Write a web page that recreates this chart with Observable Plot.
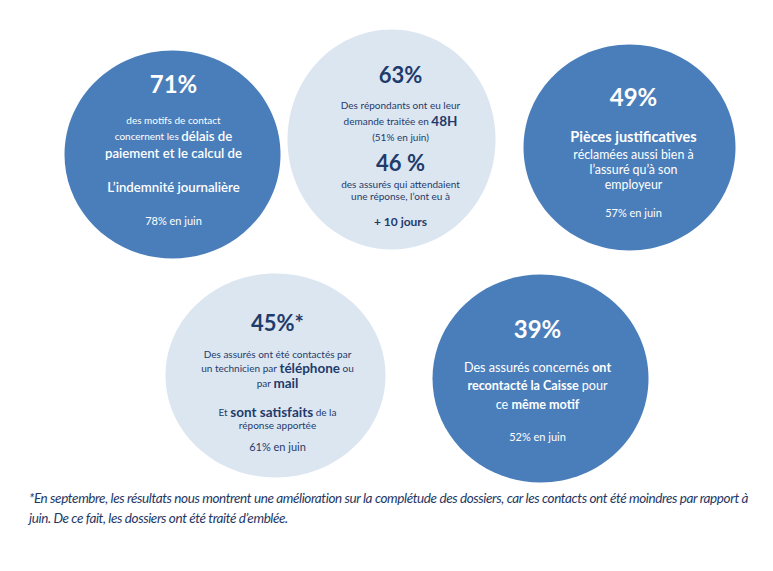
<!DOCTYPE html>
<html><head><meta charset="utf-8">
<script src="https://cdn.jsdelivr.net/npm/d3@7"></script>
<script src="https://cdn.jsdelivr.net/npm/@observablehq/plot@0.6"></script>
<style>
html,body{margin:0;padding:0;background:#fff;}
#chart{width:773px;position:relative;}
#note{font-family:Lato,sans-serif;font-style:italic;font-size:13.5px;line-height:20px;color:#1f3864;letter-spacing:-0.4px;margin:0;padding:0 0 0 29px;width:744px;white-space:nowrap;}
</style></head><body><div id="chart"></div>
<p id="note"></p>
<script>
// ---- data ----
const headline = ["71%", "63%", "49%", "45%*", "39%"];
const secondStat = "46 %";
const june = ["78% en juin", "(51% en juin)", "57% en juin", "61% en juin", "52% en juin"];
const tone = ["dark", "light", "dark", "light", "dark"];
const footnote = [
  "*En septembre, les résultats nous montrent une amélioration sur la complétude des dossiers, car les contacts ont été moindres par rapport à",
  "juin. De ce fait, les dossiers ont été traité d’emblée."
];
// text lines of each bubble: segments [text, style]
const bubbleLines = [
  [[[headline[0], "H"]],
   [["des motifs de contact", "s"]],
   [["concernent les", "s"], ["délais de", "m"]],
   [["paiement et le calcul de", "m"]],
   [["L’indemnité journalière", "m"]],
   [[june[0], "j"]]],
  [[[headline[1], "Hl"]],
   [["Des répondants ont eu leur", "s"]],
   [["demande traitée en", "s"], ["48H", "b"]],
   [[june[1], "s"]],
   [[secondStat, "Hl"]],
   [["des assurés qui attendaient", "s"]],
   [["une réponse, l’ont eu à", "s"]],
   [["+ 10 jours", "d"]]],
  [[[headline[2], "H"]],
   [["Pièces justificatives", "pj"]],
   [["réclamées aussi bien à", "r"]],
   [["l’assuré qu’à son", "r"]],
   [["employeur", "r"]],
   [[june[2], "j"]]],
  [[[headline[3], "Hl"]],
   [["Des assurés ont été contactés par", "s"]],
   [["un technicien par", "s"], ["téléphone", "b"], ["ou", "s"]],
   [["par", "s"], ["mail", "b"]],
   [["Et", "s"], ["sont satisfaits", "b"], ["de la", "s"]],
   [["réponse apportée", "s"]],
   [[june[3], "j"]]],
  [[[headline[4], "H"]],
   [["Des assurés concernés", "r5"], ["ont", "rb"]],
   [["recontacté la Caisse", "rb"], ["pour", "r5"]],
   [["ce", "r5"], ["même motif", "rb"]],
   [[june[4], "j"]]]
];

// ---- layout ----
const layout = [
  {cx: 172, cy: 154, rx: 108, ry: 104, tx: 173, lineY: [85, 120, 136, 153, 187, 221]},
  {cx: 391, cy: 139, rx: 104, ry: 110, tx: 400, lineY: [75, 105, 121, 137, 163, 184, 196, 222]},
  {cx: 629, cy: 147, rx: 106, ry: 103, tx: 633, lineY: [98, 137, 155, 170, 185, 213]},
  {cx: 275, cy: 375, rx: 110, ry: 102, tx: 277, lineY: [323, 354, 368, 383, 412, 425, 447]},
  {cx: 540, cy: 378, rx: 108, ry: 104, tx: 537, lineY: [330, 367, 385, 404, 437]}
];
const palette = {dark: {bg: "#4a7ebb", fg: "#ffffff"}, light: {bg: "#dce6f1", fg: "#1f3b6b"}};
const styles = {
  H: {size: 24, weight: 700}, Hl: {size: 22, weight: 700},
  s: {size: 10, weight: 400}, m: {size: 13.2, weight: 600},
  b: {size: 13.5, weight: 700}, r: {size: 12.4, weight: 400},
  r5: {size: 12.6, weight: 400}, rb: {size: 12.6, weight: 700},
  j: {size: 11, weight: 400},
  d: {size: 12, weight: 700}, pj: {size: 14.5, weight: 700}
};

const ctx = document.createElement("canvas").getContext("2d");
function measure(t, st) { ctx.font = `${st.weight} ${st.size}px Lato`; return ctx.measureText(t).width; }

const rows = [];
bubbleLines.forEach((lines, i) => {
  const L = layout[i], fg = palette[tone[i]].fg;
  lines.forEach((segs, j) => {
    const parts = segs.map(([t, s]) => ({t, st: styles[s]}));
    let total = 0;
    parts.forEach((p, k) => { p.w = measure(p.t, p.st); p.gap = k ? measure(" ", styles.s.size < p.st.size ? parts[k-1].st : p.st) : 0; total += p.w + p.gap; });
    let x = L.tx - total / 2;
    parts.forEach(p => { x += p.gap; rows.push({x, y: L.lineY[j], text: p.t, size: p.st.size, weight: p.st.weight, fill: fg}); x += p.w; });
  });
});

function ellipse(aspect) {
  return {draw(c, size) {
    const ry = Math.sqrt(size / Math.PI), rx = ry * aspect, k = 0.5523;
    c.moveTo(rx, 0);
    c.bezierCurveTo(rx, k * ry, k * rx, ry, 0, ry);
    c.bezierCurveTo(-k * rx, ry, -rx, k * ry, -rx, 0);
    c.bezierCurveTo(-rx, -k * ry, -k * rx, -ry, 0, -ry);
    c.bezierCurveTo(k * rx, -ry, rx, -k * ry, rx, 0);
    c.closePath();
  }};
}

const bubbles = layout.map((L, i) => ({...L, fill: palette[tone[i]].bg}));
const marks = [
  ...bubbles.map(b => Plot.dot([b], {x: "cx", y: "cy", r: b.ry, fill: b.fill, symbol: ellipse(b.rx / b.ry)})),
  ...[400, 600, 700].map(w => Plot.text(rows.filter(r => r.weight === w), {
    x: "x", y: "y", text: "text", fontSize: "size", fill: "fill", textAnchor: "start", fontWeight: w, fontFamily: "Lato"
  }))
];
const chart = Plot.plot({
  width: 773, height: 488, margin: 0,
  x: {domain: [0, 773], range: [0, 773], axis: null},
  y: {domain: [0, 488], range: [0, 488], axis: null},
  color: {type: "identity"},
  style: {background: "white", fontFamily: "Lato"},
  marks
});
document.getElementById("chart").appendChild(chart);
const note = document.getElementById("note");
footnote.forEach((t, i) => { if (i) note.appendChild(document.createElement("br")); note.appendChild(document.createTextNode(t)); });
</script></body></html>
